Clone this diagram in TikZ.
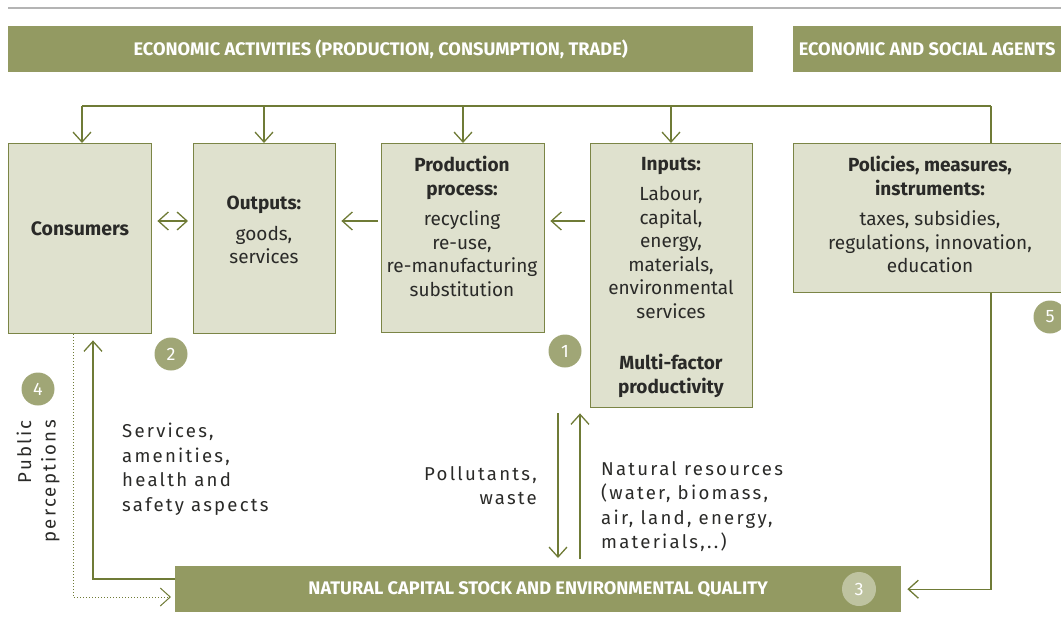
\documentclass[tikz,border=0pt]{standalone}
\usepackage{fontspec}
\setmainfont{Fira Sans}
\newfontfamily\spacedfont[LetterSpace=12]{Fira Sans}
\usetikzlibrary{arrows.meta,calc}
\definecolor{headc}{HTML}{939A62}
\definecolor{boxfill}{HTML}{DFE1CE}
\definecolor{boxline}{HTML}{7B8546}
\definecolor{linkc}{HTML}{6F7B36}
\definecolor{circc}{HTML}{A0A676}
\definecolor{circlight}{HTML}{BEC3A0}
\definecolor{inkc}{HTML}{2A2A28}
\definecolor{rulec}{HTML}{B4B4B4}
\tikzset{
  headbar/.style={fill=headc, draw=none, anchor=north west, minimum height=46pt,
    inner sep=0pt, text=white, font=\fontsize{18.2}{20}\selectfont\bfseries},
  box/.style={fill=boxfill, draw=boxline, line width=1.4pt, anchor=north west, inner sep=0pt},
  boxtext/.style={text=inkc, align=center, inner sep=0pt, font=\fontsize{19}{23.5}\selectfont},
  spaced/.style={text=inkc, inner sep=0pt, font=\fontsize{18.6}{24.5}\selectfont\spacedfont},
  badge/.style={circle, fill=circc, text=white, minimum size=33pt, inner sep=0pt,
    font=\fontsize{18}{20}\selectfont},
  plainlink/.style={draw=linkc, line width=1.3pt},
  lnk/.style={draw=linkc, line width=1.3pt, -{Straight Barb[length=10pt,width=18pt]}},
  dbllnk/.style={draw=linkc, line width=1.3pt, {Straight Barb[length=10pt,width=18pt]}-{Straight Barb[length=10pt,width=18pt]}},
}
\begin{document}
\begin{tikzpicture}[x=1pt,y=-1pt]
\useasboundingbox (0,0) rectangle (1061,624);

% top rule
\draw[rulec, line width=2pt] (8,8) -- (1061,8);

% header bars
\node[headbar, minimum width=745pt] (hecon) at (8,26) {ECONOMIC ACTIVITIES (PRODUCTION, CONSUMPTION, TRADE)};
\node[headbar, minimum width=268pt] (hagents) at (793,26) {ECONOMIC AND SOCIAL AGENTS};

% boxes
\node[box, minimum width=143pt, minimum height=190pt] (consumers) at (8,143) {};
\node[box, minimum width=142pt, minimum height=190pt] (outputs) at (193,143) {};
\node[box, minimum width=163pt, minimum height=189pt] (production) at (381,143) {};
\node[box, minimum width=162pt, minimum height=264pt] (inputs) at (590,143) {};
\node[box, minimum width=275pt, minimum height=149pt] (policies) at (793,143) {};

% box texts
\node[boxtext, font=\fontsize{19.5}{23.5}\selectfont\bfseries] (tconsumers) at (80,229) {Consumers};
\node[boxtext, anchor=north] (toutputs) at (264,196)
  {\textbf{Outputs:}\\[7pt] goods,\\ services};
\node[boxtext, anchor=north] (tproduction) at (462,156)
  {\textbf{Production}\\ \textbf{process:}\\[7pt] recycling\\ re-use,\\ re-manufacturing\\ substitution};
\node[boxtext, anchor=north] (tinputs) at (671,157)
  {\textbf{Inputs:}\\[7pt] Labour,\\ capital,\\ energy,\\ materials,\\ environmental\\ services\\[28pt]
   \textbf{Multi-factor}\\ \textbf{productivity}};
\node[boxtext, anchor=north] (tpolicies) at (930,156)
  {\textbf{Policies, measures,}\\ \textbf{instruments:}\\[7pt] taxes, subsidies,\\ regulations, innovation,\\ education};

% natural capital bar
\node[headbar, minimum width=726pt] (natcap) at (175,566) {NATURAL CAPITAL STOCK AND ENVIRONMENTAL QUALITY};
\node[badge, fill=circlight, minimum size=34pt] (b3) at (859,589) {3};

% numbered badges
\node[badge] (b1) at (565,351) {1};
\node[badge] (b2) at (171,354) {2};
\node[badge] (b4) at (38,389) {4};
\node[badge] (b5) at (1050,317) {5};

% flow labels
\node[spaced, anchor=north west, align=left] (lserv) at (122,423)
  {Services,\\ amenities,\\ health and\\ safety aspects};
\node[spaced, anchor=north east, align=right] (lpoll) at (537,466)
  {Pollutants,\\ waste};
\node[spaced, anchor=north west, align=left] (lres) at (601,461)
  {Natural resources\\ (water, biomass,\\ air, land, energy,\\ materials,..)};
\node[spaced, rotate=90, anchor=east, align=right] (lpub) at (38,420)
  {Public\\ perceptions};

% distribution line along the top
\coordinate (t1) at (82,106);
\coordinate (t2) at (264,106);
\coordinate (t3) at (463,106);
\coordinate (t4) at (671,106);
\coordinate (t5) at (991,106);
\draw[plainlink] (t1) -- (t5);
\draw[lnk] (t1) -- (t1 |- consumers.north);
\draw[lnk] (t2) -- (t2 |- outputs.north);
\draw[lnk] (t3) -- (t3 |- production.north);
\draw[lnk] (t4) -- (t4 |- inputs.north);
\draw[plainlink] (t5) -- (t5 |- policies.north);

% flows between the boxes
\coordinate (row) at (0,221);
\draw[dbllnk, shorten <=5pt, shorten >=5pt] (consumers.east |- row) -- (outputs.west |- row);
\draw[lnk, shorten <=3pt, shorten >=5pt] (production.west |- row) -- (outputs.east |- row);
\draw[lnk, shorten <=5pt, shorten >=5pt] (inputs.west |- row) -- (production.east |- row);

% exchanges with natural capital
\coordinate (pol) at (558,0);
\coordinate (res) at (580,0);
\draw[lnk, shorten <=5pt, shorten >=8pt] (inputs.south -| pol) -- (natcap.north -| pol);
\draw[lnk, shorten <=7pt, shorten >=5pt] (natcap.north -| res) -- (inputs.south -| res);

\coordinate (sv) at (93,579);
\draw[lnk, shorten >=6pt] (natcap.west |- sv) -| (consumers.south -| sv);

\coordinate (pp) at (73,597);
\draw[lnk, line width=1pt, dotted, shorten >=4pt] (consumers.south -| pp) |- (natcap.west |- pp);

% policy feedback
\draw[lnk, shorten >=6pt] (t5 |- policies.south) |- (natcap.east);
\end{tikzpicture}
\end{document}
